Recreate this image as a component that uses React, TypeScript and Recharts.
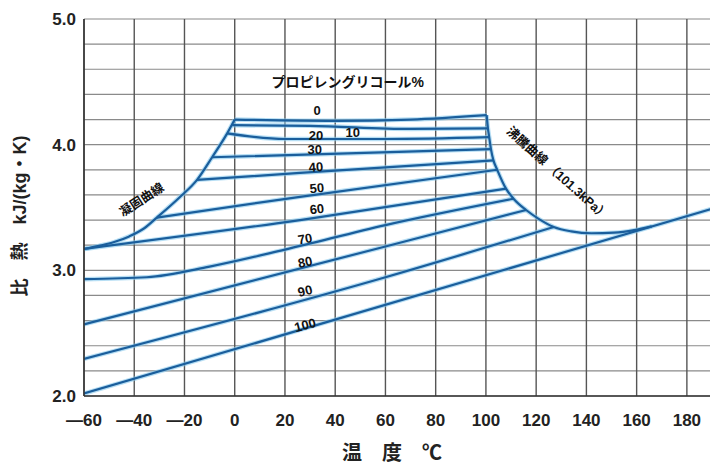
import { LineChart, Line, XAxis, YAxis, CartesianGrid, ReferenceDot, Customized } from 'recharts'

const xTicks = [-60, -40, -20, 0, 20, 40, 60, 80, 100, 120, 140, 160, 180]
const yTicks = [2.0, 2.2, 2.4, 2.6, 2.8, 3.0, 3.2, 3.4, 3.6, 3.8, 4.0, 4.2, 4.4, 4.6, 4.8, 5.0]

// specific heat of propylene glycol solutions, t = °C, cp = kJ/(kg·K)
const pg0 = [{ t: 0, cp: 4.2 }, { t: 40, cp: 4.19 }, { t: 70, cp: 4.2 }, { t: 100.3, cp: 4.235 }]
const pg10 = [{ t: -1, cp: 4.155 }, { t: 30, cp: 4.15 }, { t: 70, cp: 4.125 }, { t: 100.8, cp: 4.13 }]
const pg20 = [{ t: -3, cp: 4.09 }, { t: 20, cp: 4.045 }, { t: 60, cp: 4.045 }, { t: 101.3, cp: 4.06 }]
const pg30 = [{ t: -9, cp: 3.9 }, { t: 45, cp: 3.93 }, { t: 102, cp: 3.965 }]
const pg40 = [{ t: -15, cp: 3.72 }, { t: 26, cp: 3.775 }, { t: 103, cp: 3.875 }]
const pg50 = [{ t: -31, cp: 3.42 }, { t: 26, cp: 3.585 }, { t: 104.5, cp: 3.8 }]
const pg60 = [{ t: -60, cp: 3.17 }, { t: 26, cp: 3.4 }, { t: 108, cp: 3.65 }]
const pg70 = [{ t: -60, cp: 2.93 }, { t: -35, cp: 2.945 }, { t: -10, cp: 3.03 }, { t: 20, cp: 3.165 }, { t: 60, cp: 3.36 }, { t: 111, cp: 3.57 }]
const pg80 = [{ t: -60, cp: 2.57 }, { t: 60, cp: 3.19 }, { t: 116, cp: 3.48 }]
const pg90 = [{ t: -60, cp: 2.295 }, { t: 60, cp: 2.945 }, { t: 127, cp: 3.345 }]
const pg100 = [{ t: -60, cp: 2.02 }, { t: 190, cp: 3.49 }]

const freezingCurve = [
  { t: -60, cp: 3.17 }, { t: -54, cp: 3.195 }, { t: -48, cp: 3.225 }, { t: -42, cp: 3.27 },
  { t: -36, cp: 3.335 }, { t: -31, cp: 3.42 }, { t: -22, cp: 3.58 }, { t: -15, cp: 3.72 },
  { t: -9, cp: 3.9 }, { t: -3, cp: 4.09 }, { t: 0, cp: 4.2 },
]
const boilingCurve = [
  { t: 100.3, cp: 4.235 }, { t: 100.8, cp: 4.13 }, { t: 101.3, cp: 4.06 }, { t: 102, cp: 3.965 },
  { t: 103, cp: 3.875 }, { t: 104.5, cp: 3.8 }, { t: 108, cp: 3.65 }, { t: 111, cp: 3.57 },
  { t: 116, cp: 3.48 }, { t: 121, cp: 3.41 }, { t: 127, cp: 3.345 }, { t: 134, cp: 3.31 },
  { t: 142, cp: 3.295 }, { t: 151, cp: 3.3 }, { t: 159, cp: 3.32 }, { t: 166, cp: 3.35 },
]

const curves = [pg0, pg10, pg20, pg30, pg40, pg50, pg60, pg70, pg80, pg90, pg100, freezingCurve, boilingCurve]

// label anchors in chart units
const concLabels = [
  { text: '0', t: 32.8, cp: 4.27, angle: 0 },
  { text: '10', t: 47, cp: 4.1, angle: 0 },
  { text: '20', t: 32.4, cp: 4.07, angle: 0 },
  { text: '30', t: 31.9, cp: 3.958, angle: 0 },
  { text: '40', t: 32.3, cp: 3.822, angle: -4 },
  { text: '50', t: 32.7, cp: 3.655, angle: -5 },
  { text: '60', t: 32.7, cp: 3.488, angle: -6 },
  { text: '70', t: 28, cp: 3.25, angle: -10 },
  { text: '80', t: 28, cp: 3.066, angle: -12 },
  { text: '90', t: 28, cp: 2.836, angle: -14 },
  { text: '100', t: 28, cp: 2.565, angle: -15 },
]
const curveLabels = [
  { text: 'プロピレングリコール%', t: 45, cp: 4.5, angle: 0, size: 14 },
  { text: '凝固曲線', t: -37, cp: 3.56, angle: -33, size: 12.5 },
  { text: '沸騰曲線 （101.3kPa）', t: 128.5, cp: 3.77, angle: 42, size: 12.5 },
]

const FONT = '"Liberation Sans", Arial, "Noto Sans CJK JP", sans-serif'
const BLUE = '#1a5e9c'

const Titles = () => (
  <g fontFamily={FONT} fill="#222" fontWeight={700}>
    <text x={392} y={460} fontSize={20} textAnchor="middle">温　度　℃</text>
    <text transform="translate(20,216) rotate(-90)" fontSize={18} textAnchor="middle" dominantBaseline="central">
      比　熱　kJ/(kg・K)
    </text>
  </g>
)

const fmtX = (v: number) => (v < 0 ? '—' + Math.abs(v) : String(v))
const fmtY = (v: number) => (Math.abs(v - Math.round(v)) < 1e-6 ? v.toFixed(1) : '')

export default function App() {
  return (
    <div style={{ position: 'absolute', left: 0, top: 0, width: 710, height: 468, overflow: 'hidden', background: '#fff' }}>
      <LineChart width={720} height={468} margin={{ top: 19, right: 8, left: 0, bottom: 0 }}>
        <CartesianGrid horizontal vertical={false} stroke="#8a8a8a" strokeWidth={1.2} />
        <CartesianGrid horizontal={false} vertical stroke="#555" strokeWidth={1.4} />
        <XAxis
          type="number"
          dataKey="t"
          domain={[-60, 190]}
          ticks={xTicks}
          tickFormatter={fmtX}
          tickLine={false}
          tickMargin={12}
          height={72}
          axisLine={{ stroke: '#333', strokeWidth: 1.5 }}
          tick={{ fill: '#222', fontSize: 17, fontWeight: 700, fontFamily: FONT }}
          allowDataOverflow
        />
        <YAxis
          type="number"
          dataKey="cp"
          domain={[2, 5]}
          ticks={yTicks}
          tickFormatter={fmtY}
          tickLine={false}
          width={84}
          axisLine={{ stroke: '#333', strokeWidth: 1.5 }}
          tick={{ fill: '#222', fontSize: 17, fontWeight: 700, fontFamily: FONT }}
          allowDataOverflow
        />
        {curves.map((d, i) => (
          <Line key={`halo-${i}`} data={d} dataKey="cp" type="monotone" stroke="#86c8ec" strokeWidth={4.5}
            strokeOpacity={0.6} dot={false} activeDot={false} isAnimationActive={false} />
        ))}
        {curves.map((d, i) => (
          <Line key={`line-${i}`} data={d} dataKey="cp" type="monotone" stroke={BLUE} strokeWidth={2.2}
            dot={false} activeDot={false} isAnimationActive={false} />
        ))}
        {concLabels.map((l) => (
          <ReferenceDot key={`c-${l.text}`} x={l.t} y={l.cp} r={0}
            shape={(p: any) => (
              <text x={p.cx} y={p.cy} transform={`rotate(${l.angle},${p.cx},${p.cy})`} textAnchor="middle"
                dominantBaseline="central" fontSize={13} fontWeight={700} fontFamily={FONT} fill="#111">
                {l.text}
              </text>
            )} />
        ))}
        {curveLabels.map((l) => (
          <ReferenceDot key={`k-${l.text}`} x={l.t} y={l.cp} r={0}
            shape={(p: any) => (
              <text x={p.cx} y={p.cy} transform={`rotate(${l.angle},${p.cx},${p.cy})`} textAnchor="middle"
                dominantBaseline="central" fontSize={l.size} fontWeight={700} fontFamily={FONT} fill="#111">
                {l.text}
              </text>
            )} />
        ))}
        <Customized component={Titles} />
      </LineChart>
    </div>
  )
}
